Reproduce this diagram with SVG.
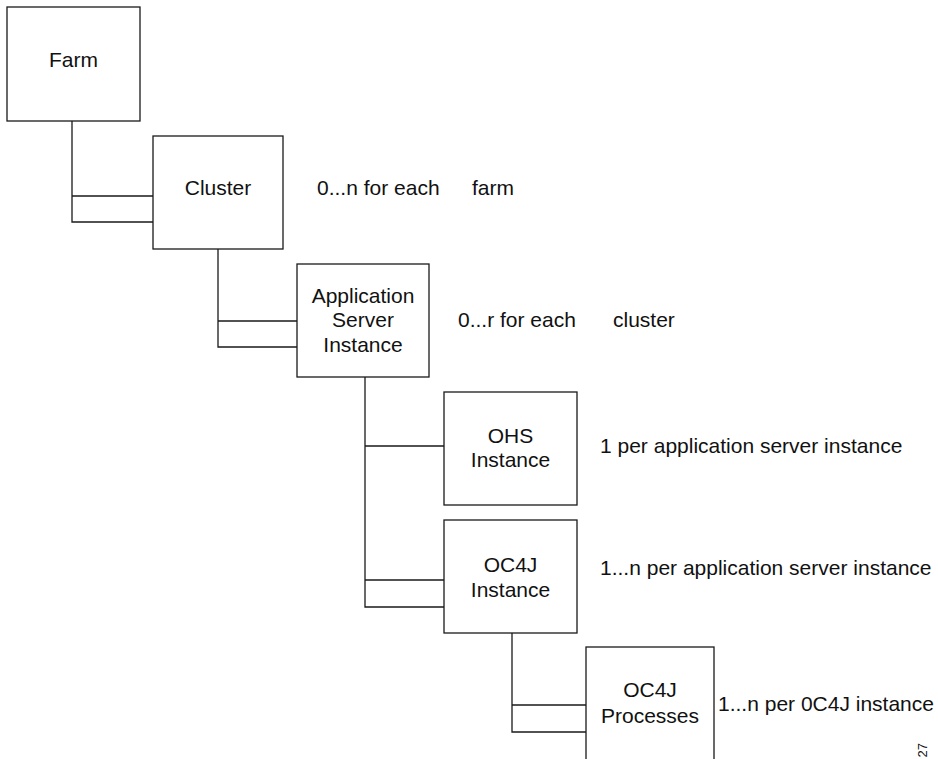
<svg xmlns="http://www.w3.org/2000/svg" width="938" height="759" viewBox="0 0 938 759">
<style>
.box{fill:#fff;stroke:#1a1a1a;stroke-width:1.3}
.ln{fill:none;stroke:#1a1a1a;stroke-width:1.3}
text{font-family:"Liberation Sans",Arial,sans-serif;font-size:21px;fill:#111}
.c{text-anchor:middle}
</style>
<rect width="938" height="759" fill="#fff"/>
<g id="connectors">
<path class="ln" d="M72 121V222H153M72 196H153"/>
<path class="ln" d="M218 249V347H297M218 321H297"/>
<path class="ln" d="M365 377V607H444M365 446H444M365 580H444"/>
<path class="ln" d="M512 633V732H586M512 705H586"/>
</g>
<g id="farm"><rect class="box" x="7" y="7" width="133" height="114"/><text class="c" x="73.5" y="67">Farm</text></g>
<g id="cluster"><rect class="box" x="153" y="136" width="130" height="113"/><text class="c" x="218" y="195">Cluster</text></g>
<g id="app-server"><rect class="box" x="297" y="264" width="132" height="113"/><text class="c" x="363" y="303">Application</text><text class="c" x="363" y="327">Server</text><text class="c" x="363" y="352">Instance</text></g>
<g id="ohs"><rect class="box" x="444" y="392" width="133" height="113"/><text class="c" x="510.5" y="443">OHS</text><text class="c" x="510.5" y="467">Instance</text></g>
<g id="oc4j-instance"><rect class="box" x="444" y="520" width="133" height="113"/><text class="c" x="510.5" y="572">OC4J</text><text class="c" x="510.5" y="597">Instance</text></g>
<g id="oc4j-processes"><rect class="box" x="586" y="647" width="128" height="130"/><text class="c" x="650" y="697">OC4J</text><text class="c" x="650" y="723">Processes</text></g>
<g id="labels">
<text x="317" y="195">0...n for each<tspan x="472">farm</tspan></text>
<text x="458" y="327">0...r for each<tspan x="613">cluster</tspan></text>
<text x="600" y="453">1 per application server instance</text>
<text x="600" y="575">1...n per application server instance</text>
<text x="718" y="711">1...n per 0C4J instance</text>
<text transform="translate(927,743) rotate(-90)" style="font-size:13px" text-anchor="end">27</text>
</g>
</svg>
